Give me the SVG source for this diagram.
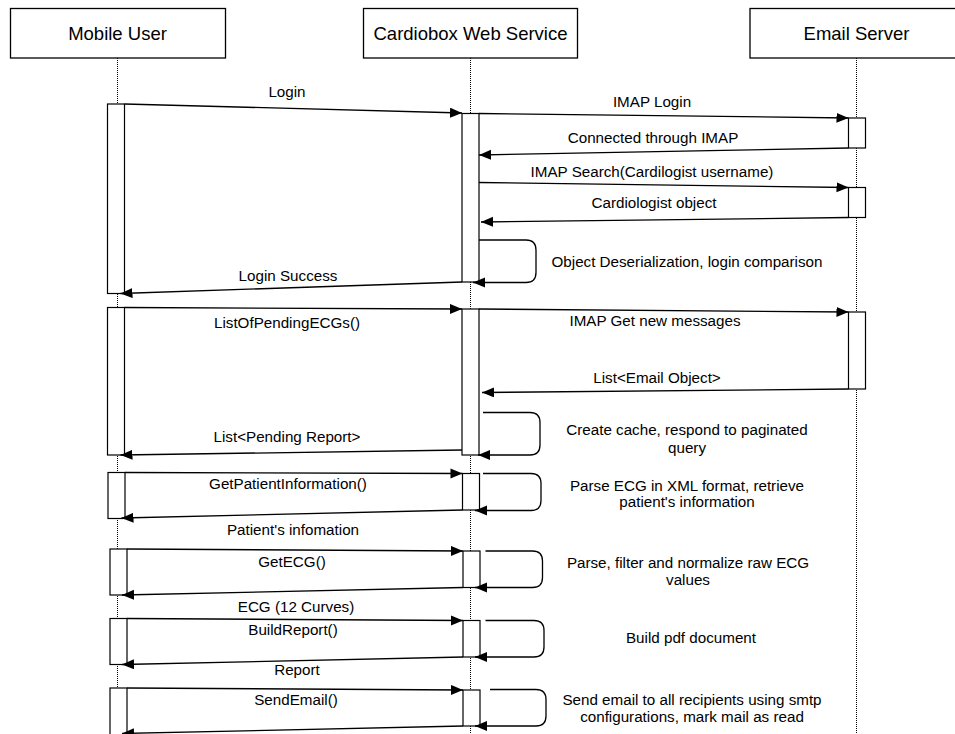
<svg xmlns="http://www.w3.org/2000/svg" width="955" height="734" viewBox="0 0 955 734">
<style>
text{font-family:"Liberation Sans",Arial,Helvetica,sans-serif;fill:#000;}
.hd{font-size:18.5px;text-anchor:middle;}
.lb{font-size:15.2px;text-anchor:middle;}
.box{fill:#fff;stroke:#000;stroke-width:1.3;}
.act{fill:#fff;stroke:#000;stroke-width:1.2;}
.life{stroke:#000;stroke-width:1;stroke-dasharray:1 1;fill:none;}
.msg{stroke:#000;stroke-width:1.3;fill:none;marker-end:url(#ah);}
</style>
<defs>
<marker id="ah" markerUnits="userSpaceOnUse" markerWidth="13" markerHeight="11" refX="12" refY="5" orient="auto">
<path d="M0,0 L12,5 L0,10 z" fill="#000"/>
</marker>
</defs>
<rect width="955" height="734" fill="#fff"/>

<g id="lifelines">
<line class="life" x1="117.5" y1="58" x2="117.5" y2="734"/>
<line class="life" x1="470.5" y1="58" x2="470.5" y2="734"/>
<line class="life" x1="856.5" y1="58" x2="856.5" y2="734"/>
</g>

<g id="mobile-user">
<rect class="box" x="10.5" y="8.5" width="215" height="49.5"/>
<text class="hd" x="117.5" y="39.5">Mobile User</text>
</g>
<g id="cardiobox-web-service">
<rect class="box" x="363.5" y="8.5" width="214" height="49.5"/>
<text class="hd" x="470.5" y="39.5">Cardiobox Web Service</text>
</g>
<g id="email-server">
<rect class="box" x="750" y="8.5" width="210" height="49.5"/>
<text class="hd" x="856.5" y="39.5">Email Server</text>
</g>

<g id="activations">
<rect class="act" x="107.5" y="104" width="17" height="189.5"/>
<rect class="act" x="462" y="113.5" width="17" height="168.5"/>
<rect class="act" x="848.5" y="118" width="17" height="30"/>
<rect class="act" x="848.5" y="187.5" width="17" height="30"/>
<rect class="act" x="107.5" y="307.5" width="17" height="147.5"/>
<rect class="act" x="462" y="309" width="17" height="146"/>
<rect class="act" x="848.5" y="312" width="17" height="77"/>
<rect class="act" x="108" y="472.5" width="17" height="46"/>
<rect class="act" x="462.5" y="473.5" width="17" height="36.5"/>
<rect class="act" x="110" y="549" width="17" height="46"/>
<rect class="act" x="463" y="551" width="17" height="36.5"/>
<rect class="act" x="110" y="618.5" width="17" height="46"/>
<rect class="act" x="463" y="620.5" width="17" height="36.5"/>
<rect class="act" x="110" y="688" width="17" height="50"/>
<rect class="act" x="463" y="690" width="17" height="36"/>
</g>

<g id="connectors">
<path class="msg" d="M124.5,104 L462,113"/>
<path class="msg" d="M479,113.5 L848.5,118"/>
<path class="msg" d="M848.5,148 L479,155"/>
<path class="msg" d="M479,182.5 L848.5,187.5"/>
<path class="msg" d="M848.5,217.5 L481,222"/>
<path class="msg" d="M479,240 H526 Q536,240 536,250 V272.5 Q536,282.5 526,282.5 H473"/>
<path class="msg" d="M462,282 L120.5,293.5"/>

<path class="msg" d="M124.5,307.5 L462,309"/>
<path class="msg" d="M479,309 L848.5,312"/>
<path class="msg" d="M848.5,389 L482,392.5"/>
<path class="msg" d="M483,412.5 H530 Q540,412.5 540,422.5 V445 Q540,455 530,455 H478"/>
<path class="msg" d="M462,450 L120.5,455"/>

<path class="msg" d="M125,472.5 L462.5,473.5"/>
<path class="msg" d="M483,473.5 H531 Q541,473.5 541,483.5 V500.5 Q541,510.5 531,510.5 H475"/>
<path class="msg" d="M462.5,510 L121.5,518"/>

<path class="msg" d="M127,549 L463,551"/>
<path class="msg" d="M485.5,551 H532.5 Q542.5,551 542.5,561 V577.5 Q542.5,587.5 532.5,587.5 H475"/>
<path class="msg" d="M463,587.5 L122,595"/>

<path class="msg" d="M127,618.5 L463,620.5"/>
<path class="msg" d="M485.5,620.5 H534 Q544,620.5 544,630.5 V647 Q544,657 534,657 H475"/>
<path class="msg" d="M463,657 L122,664.5"/>

<path class="msg" d="M127,688 L463,690"/>
<path class="msg" d="M490,689.5 H536 Q546,689.5 546,699.5 V716 Q546,726 536,726 H475"/>
<path class="msg" d="M463,726 L122,733.5"/>
</g>

<g id="labels">
<text class="lb" x="287" y="97">Login</text>
<text class="lb" x="652" y="106.5">IMAP Login</text>
<text class="lb" x="653" y="142.5">Connected through IMAP</text>
<text class="lb" x="652" y="176.5">IMAP Search(Cardilogist username)</text>
<text class="lb" x="654" y="208">Cardiologist object</text>
<text class="lb" x="687" y="266.5">Object Deserialization, login comparison</text>
<text class="lb" x="288" y="281">Login Success</text>

<text class="lb" x="287" y="327.5">ListOfPendingECGs()</text>
<text class="lb" x="655" y="325.5">IMAP Get new messages</text>
<text class="lb" x="657" y="383">List&lt;Email Object&gt;</text>
<text class="lb" x="687" y="435">Create cache, respond to paginated</text>
<text class="lb" x="687" y="452.5">query</text>
<text class="lb" x="287" y="441.5">List&lt;Pending Report&gt;</text>

<text class="lb" x="288" y="489">GetPatientInformation()</text>
<text class="lb" x="687" y="491">Parse ECG in XML format, retrieve</text>
<text class="lb" x="687" y="506.5">patient's information</text>
<text class="lb" x="293" y="535">Patient's infomation</text>

<text class="lb" x="292" y="566.5">GetECG()</text>
<text class="lb" x="688" y="568">Parse, filter and normalize raw ECG</text>
<text class="lb" x="688" y="585">values</text>
<text class="lb" x="296" y="612">ECG (12 Curves)</text>

<text class="lb" x="293" y="635">BuildReport()</text>
<text class="lb" x="691" y="642.5">Build pdf document</text>
<text class="lb" x="297" y="675">Report</text>

<text class="lb" x="296" y="705">SendEmail()</text>
<text class="lb" x="692" y="705">Send email to all recipients using smtp</text>
<text class="lb" x="692" y="721.5">configurations, mark mail as read</text>
</g>
</svg>
